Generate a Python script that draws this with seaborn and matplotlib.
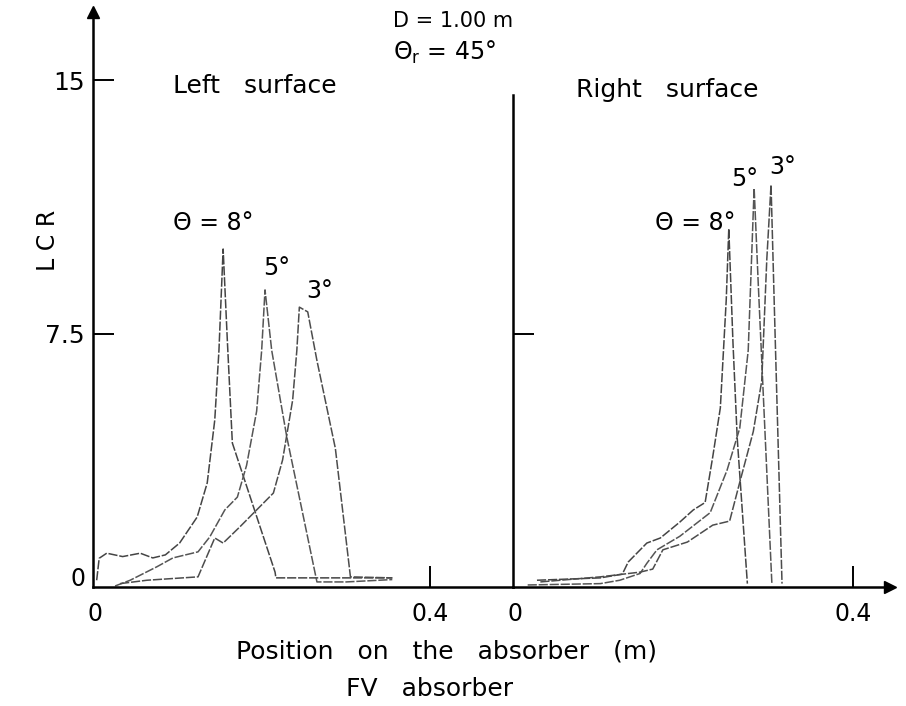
import numpy as np
import pandas as pd
import matplotlib
matplotlib.use("Agg")
import matplotlib.pyplot as plt
import seaborn as sns

# ---- data ----
left_8_x = [0.002, 0.005, 0.014, 0.033, 0.054, 0.069, 0.084, 0.101, 0.122, 0.134, 0.143, 0.148, 0.153, 0.158, 0.164, 0.215, 0.216, 0.355]
left_8_y = [0.2, 0.85, 1.0, 0.9, 1.0, 0.86, 0.95, 1.3, 2.07, 3.08, 4.94, 7.0, 10.0, 7.3, 4.26, 0.44, 0.27, 0.27]
left_5_x = [0.024, 0.042, 0.074, 0.093, 0.123, 0.137, 0.155, 0.170, 0.181, 0.193, 0.199, 0.203, 0.211, 0.229, 0.265, 0.300, 0.355]
left_5_y = [0.03, 0.2, 0.6, 0.86, 1.04, 1.48, 2.28, 2.66, 3.6, 5.2, 7.0, 8.79, 7.0, 4.44, 0.15, 0.15, 0.22]
left_3_x = [0.030, 0.062, 0.123, 0.143, 0.153, 0.173, 0.213, 0.224, 0.236, 0.241, 0.244, 0.254, 0.265, 0.287, 0.305, 0.355]
left_3_y = [0.1, 0.2, 0.3, 1.45, 1.3, 1.78, 2.78, 3.76, 5.53, 7.0, 8.28, 8.14, 6.7, 4.1, 0.3, 0.27]

right_8_x = [0.026, 0.101, 0.127, 0.134, 0.156, 0.172, 0.195, 0.211, 0.225, 0.234, 0.243, 0.250, 0.253, 0.258, 0.263, 0.275]
right_8_y = [0.2, 0.27, 0.38, 0.74, 1.3, 1.45, 1.92, 2.28, 2.5, 3.85, 5.3, 8.5, 10.6, 7.2, 4.4, 0.1]
right_5_x = [0.015, 0.101, 0.124, 0.148, 0.156, 0.168, 0.195, 0.231, 0.251, 0.266, 0.276, 0.283, 0.288, 0.304]
right_5_y = [0.06, 0.1, 0.2, 0.4, 0.7, 1.1, 1.5, 2.2, 3.46, 4.7, 7.0, 11.8, 8.9, 0.1]
right_3_x = [0.030, 0.101, 0.148, 0.163, 0.175, 0.204, 0.234, 0.254, 0.266, 0.282, 0.292, 0.298, 0.303, 0.307, 0.316]
right_3_y = [0.15, 0.3, 0.44, 0.53, 1.1, 1.33, 1.83, 1.95, 3.1, 4.6, 6.1, 9.7, 11.9, 8.2, 0.1]

y_ticks = [7.5, 15]
y_tick_labels = ["7.5", "15"]
x_ticks = [0, 0.4]
x_tick_labels = ["0", "0.4"]

def frame(series):
    rows = []
    for name, xs, ys in series:
        for i, (a, b) in enumerate(zip(xs, ys)):
            rows.append({"theta": name, "x": a, "y": b, "order": i})
    return pd.DataFrame(rows)

df_left = frame([("8", left_8_x, left_8_y), ("5", left_5_x, left_5_y), ("3", left_3_x, left_3_y)])
df_right = frame([("8", right_8_x, right_8_y), ("5", right_5_x, right_5_y), ("3", right_3_x, right_3_y)])

sns.set_style("white")
plt.rcParams['font.family'] = ['DejaVu Sans']
plt.rcParams['text.color'] = 'black'
plt.rcParams['xtick.color'] = 'black'
plt.rcParams['ytick.color'] = 'black'

W, H = 906, 706
fig = plt.figure(figsize=(W / 100, H / 100), dpi=100)

def fx(px):
    return px / W

def fy(py):
    return 1 - py / H

axL = fig.add_axes([fx(93), fy(587), fx(513) - fx(93), fy(12) - fy(587)])
axR = fig.add_axes([fx(513), fy(587), fx(890) - fx(513), fy(12) - fy(587)])

ymax = (587 - 12) / 33.8
axL.set_xlim((93 - 95) / 837.5, (513 - 95) / 837.5)
axR.set_xlim((513 - 515) / 845, (890 - 515) / 845)
for ax in (axL, axR):
    ax.set_ylim(0, ymax)
    ax.patch.set_alpha(0)

pal = {"8": "#444444", "5": "#555555", "3": "#4c4c4c"}
for ax, df in ((axL, df_left), (axR, df_right)):
    sns.lineplot(data=df, x="x", y="y", hue="theta", palette=pal, sort=False,
                 estimator=None, units="theta", legend=False, ax=ax, linewidth=1.1)
    for ln in ax.get_lines():
        ln.set_linestyle((0, (6, 1.2)))
    ax.set_xlabel("")
    ax.set_ylabel("")
    for s in ("top", "right"):
        ax.spines[s].set_visible(False)
    for s in ("left", "bottom"):
        ax.spines[s].set_linewidth(1.8)
        ax.spines[s].set_color("black")
    ax.set_xticks(x_ticks)
    ax.set_xticklabels(x_tick_labels, fontsize=17)
    ax.tick_params(axis="x", which="major", bottom=True, direction="in", length=15, width=1.4, pad=11)
    ax.xaxis.get_major_ticks()[0].tick1line.set_visible(False)
    ax.tick_params(axis="y", which="major", left=True, direction="in", length=15, width=1.4, pad=6, labelsize=18)

axL.set_yticks(y_ticks)
axL.set_yticklabels(y_tick_labels)
axR.set_yticks([7.5])
axR.set_yticklabels([""])
axR.spines["left"].set_bounds(0, (587 - 95) / 33.8)

# arrows
axL.plot([0], [1], marker="^", markersize=9, color="black", transform=axL.transAxes, clip_on=False)
axR.plot([1], [0], marker=">", markersize=9, color="black", transform=axR.transAxes, clip_on=False)

fig.text(fx(78), fy(579), "0", fontsize=17, ha="center", va="center")

fig.text(fx(393), fy(21), "D = 1.00 m", fontsize=15, ha="left", va="center")
fig.text(fx(393), fy(52), "Θ$_\\mathregular{r}$ = 45°", fontsize=17, ha="left", va="center")
fig.text(fx(255), fy(86), "Left   surface", fontsize=18, ha="center", va="center")
fig.text(fx(667), fy(90), "Right   surface", fontsize=18, ha="center", va="center")
fig.text(fx(48), fy(240), "L C R", fontsize=17, ha="center", va="center", rotation=90)
fig.text(fx(447), fy(652), "Position   on   the   absorber   (m)", fontsize=18, ha="center", va="center")
fig.text(fx(430), fy(689), "FV   absorber", fontsize=18, ha="center", va="center")

fig.text(fx(213), fy(223), "Θ = 8°", fontsize=17, ha="center", va="center")
fig.text(fx(277), fy(268), "5°", fontsize=17, ha="center", va="center")
fig.text(fx(320), fy(291), "3°", fontsize=17, ha="center", va="center")
fig.text(fx(695), fy(223), "Θ = 8°", fontsize=17, ha="center", va="center")
fig.text(fx(745), fy(179), "5°", fontsize=17, ha="center", va="center")
fig.text(fx(783), fy(167), "3°", fontsize=17, ha="center", va="center")

fig.savefig("out.png", dpi=100)
